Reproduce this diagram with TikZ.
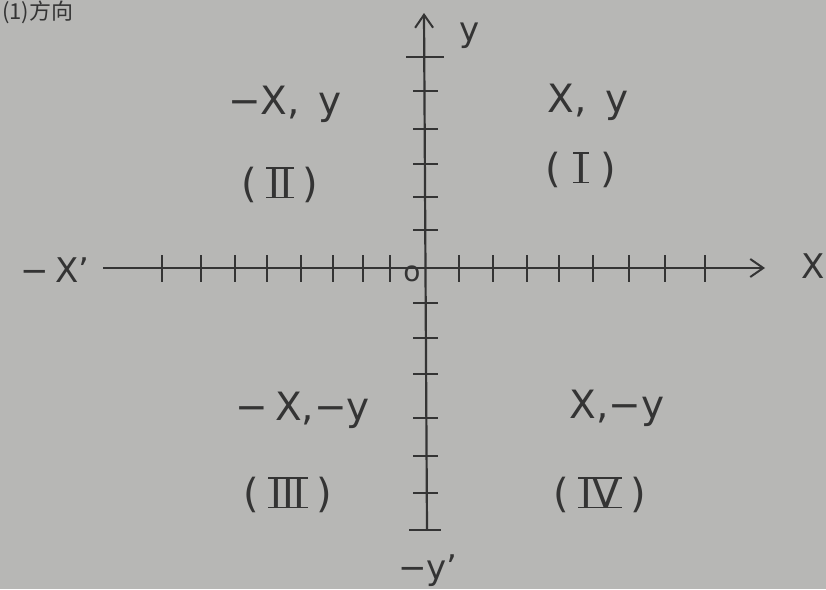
\documentclass[tikz,border=0pt]{standalone}
\usepackage{fontspec}
\setmainfont{DejaVu Sans}
\newfontfamily\cjk{Noto Sans CJK SC}
\usetikzlibrary{arrows.meta}
\definecolor{papier}{RGB}{183,183,181}
\definecolor{crayon}{RGB}{52,52,52}
% chiffre romain barre en haut et en bas
\newcommand\romain[1]{\setbox0\hbox{\kern2pt#1\kern2pt}%
  \rlap{\rule[-0.9pt]{\wd0}{1.8pt}}%
  \rlap{\rule[\dimexpr\ht0-0.9pt\relax]{\wd0}{1.8pt}}\box0}

\begin{document}
\begin{tikzpicture}[x=1pt,y=-1pt,line width=2.2pt,crayon,
   axe/.style={-{Straight Barb[length=13pt,width=18pt,line width=2pt]}},
   graduation/.style={line width=1.6pt},
   etiquette/.style={inner sep=0pt,font=\fontsize{34}{40}\selectfont},
   quadrant/.style={inner sep=0pt,font=\fontsize{39}{44}\selectfont},
   numero/.style={inner sep=0pt,font=\fontsize{40}{44}\selectfont}]

  \fill[papier] (0,0) rectangle (826,589);
  \useasboundingbox (0,0) rectangle (826,589);

  \node[inner sep=0pt,anchor=north west,font=\cjk\fontsize{22}{24}\selectfont] (titre) at (1,0) {(1)方向};

  % axes
  \coordinate (xg) at (103,268);
  \coordinate (xd) at (765,268);
  \coordinate (yh) at (424,13);
  \coordinate (yb) at (427,530);
  \draw[axe] (xg) -- (xd);
  \draw[axe] (yb) -- (yh);

  % graduations
  \foreach \x in {162,201,235,267,301,333,363,390,459,493,527,559,593,629,665,705}
    \draw[graduation] (\x,255) -- (\x,282);
  \foreach \y in {91,129,164,197,230,303,338,374,418,456,493}
    \draw[graduation] (413,\y) -- (438,\y);
  \draw (406,57) -- (444,57);
  \draw (409,530) -- (441,530);

  \node[etiquette] (X) at (813,266) {X};
  \node[etiquette] (Xp) at (55,270) {−\,X’};
  \node[etiquette] (Y) at (470,36) {y};
  \node[etiquette,anchor=south] (Yp) at (428,588) {−y’};
  \node[inner sep=0pt,font=\fontsize{28}{30}\selectfont] (O) at (412,274) {o};

  \node[quadrant] (q1) at (588,102) {X,\ \,y};
  \node[quadrant] (q2) at (285,104) {−X,\ \,y};
  \node[quadrant] (q3) at (303,410) {−\,X,−y};
  \node[quadrant] (q4) at (617,408) {X,−y};

  \node[numero] (n1) at (581,170) {(\hspace{12pt}\romain{I}\hspace{12pt})};
  \node[numero] (n2) at (280,185) {(\hspace{9pt}\romain{II}\hspace{9pt})};
  \node[numero] (n3) at (288,495) {(\hspace{9pt}\romain{III}\hspace{9pt})};
  \node[numero] (n4) at (600,495) {(\hspace{9pt}\romain{IV}\hspace{9pt})};
\end{tikzpicture}
\end{document}
